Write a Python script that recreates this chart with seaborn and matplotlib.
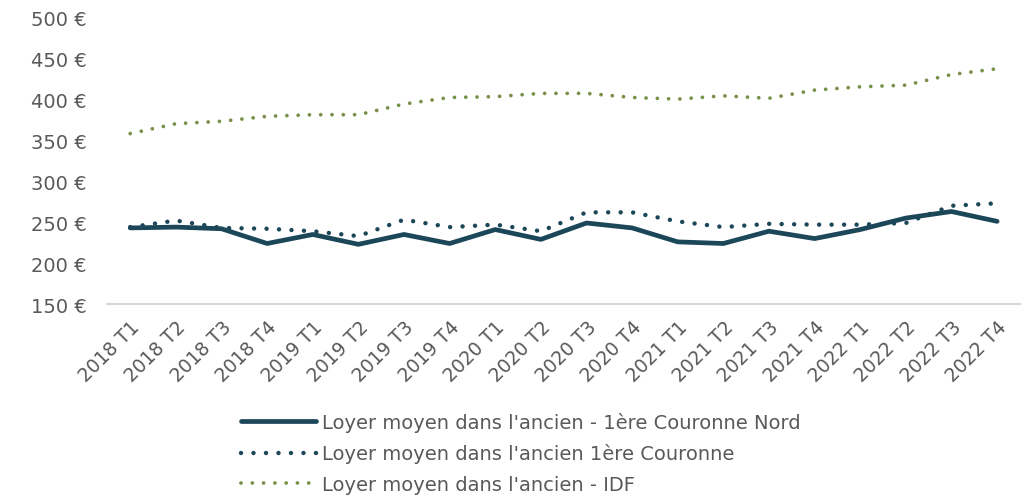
import matplotlib
matplotlib.use("Agg")
import matplotlib.pyplot as plt
import seaborn as sns
import pandas as pd

quarters = ["2018 T1", "2018 T2", "2018 T3", "2018 T4",
            "2019 T1", "2019 T2", "2019 T3", "2019 T4",
            "2020 T1", "2020 T2", "2020 T3", "2020 T4",
            "2021 T1", "2021 T2", "2021 T3", "2021 T4",
            "2022 T1", "2022 T2", "2022 T3", "2022 T4"]

nord = [243, 244, 242, 224, 235, 223, 235, 224, 241, 229,
        249, 243, 226, 224, 239, 230, 241, 255, 263, 251]
couronne = [244, 252, 243, 242, 239, 233, 253, 244, 247, 239,
            262, 262, 251, 244, 248, 247, 247, 249, 270, 273]
idf = [358, 370, 373, 379, 381, 381, 394, 402, 403, 407,
       407, 402, 400, 404, 401, 411, 415, 417, 430, 437]

labels = ["Loyer moyen dans l'ancien - 1ère Couronne Nord",
          "Loyer moyen dans l'ancien 1ère Couronne",
          "Loyer moyen dans l'ancien - IDF"]
yticks = [150, 200, 250, 300, 350, 400, 450, 500]

sns.set_theme(style="white")
plt.rcParams['font.family'] = ['DejaVu Sans']

dark = "#1C4759"
green = "#789048"
textc = "#595959"

fig = plt.figure(figsize=(10.23, 5.02), dpi=100)
ax = fig.add_axes([0.105, 0.392, 0.892, 0.572])

x = list(range(len(quarters)))
df_n = pd.DataFrame({"x": x, "y": nord})
df_c = pd.DataFrame({"x": x, "y": couronne})
df_i = pd.DataFrame({"x": x, "y": idf})

sns.lineplot(data=df_n, x="x", y="y", ax=ax, color=dark, linewidth=3.4,
             label=labels[0], solid_capstyle="round", solid_joinstyle="round")
sns.lineplot(data=df_c, x="x", y="y", ax=ax, color=dark, linewidth=3.2,
             label=labels[1])
sns.lineplot(data=df_i, x="x", y="y", ax=ax, color=green, linewidth=2.7,
             label=labels[2])

lines = ax.get_lines()
lines[1].set_linestyle((0, (0.01, 2.8)))
lines[1].set_dash_capstyle("round")
lines[2].set_linestyle((0, (0.01, 3.0)))
lines[2].set_dash_capstyle("round")

ax.set_xlim(-0.5, len(quarters) - 0.5)
ax.set_ylim(150, 500)
ax.set_yticks(yticks)
ax.set_yticklabels([f"{v} €" for v in yticks], fontsize=14, color=textc)
ax.set_xticks(x)
ax.set_xticklabels(quarters, rotation=45, ha="right", rotation_mode="anchor",
                   fontsize=13.5, color=textc)
ax.tick_params(axis="x", length=0, pad=9)
ax.tick_params(axis="y", length=0, pad=15)
ax.set_xlabel("")
ax.set_ylabel("")
for s in ["top", "right", "left"]:
    ax.spines[s].set_visible(False)
ax.spines["bottom"].set_color("#d9d9d9")
ax.spines["bottom"].set_linewidth(1.5)
ax.grid(False)

handles, labs = ax.get_legend_handles_labels()
ax.get_legend().remove()
leg = fig.legend(handles, labs, loc="upper center", bbox_to_anchor=(0.509, 0.212),
                 frameon=False, fontsize=14, handlelength=3.85,
                 handletextpad=0.3, labelspacing=0.58, labelcolor=textc)
for h in leg.get_lines():
    h.set_dash_capstyle("round")

fig.savefig("out.png", dpi=100)
